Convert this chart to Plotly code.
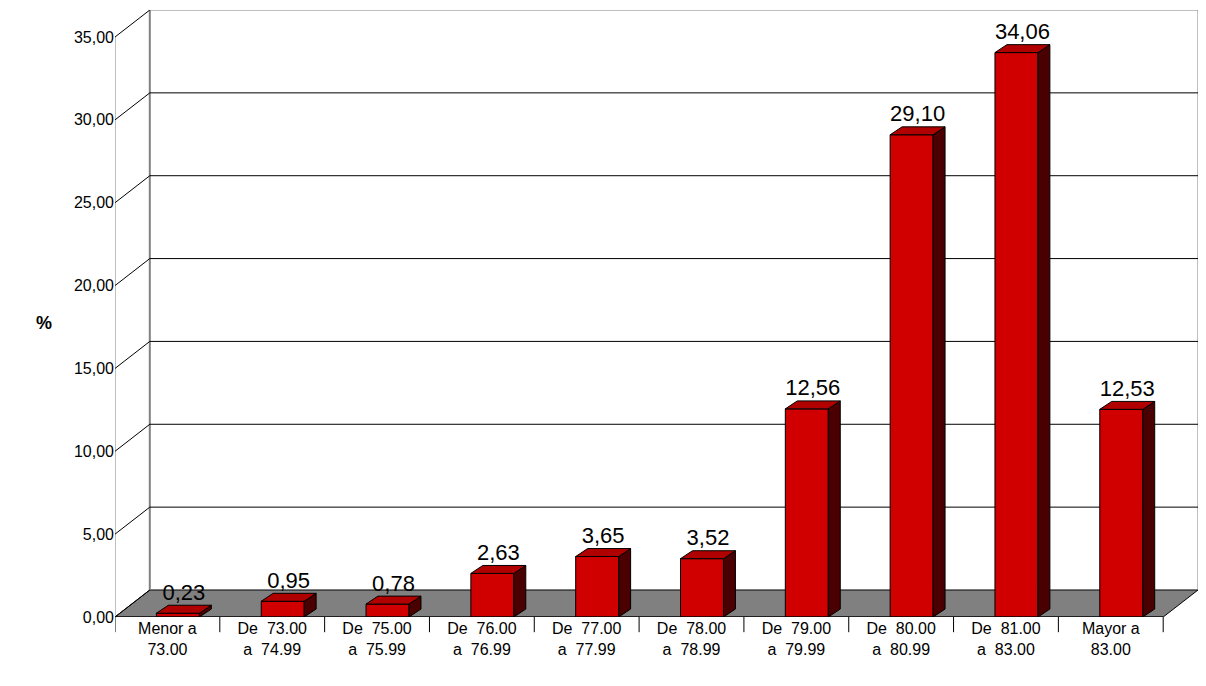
import plotly.graph_objects as go

categories = ["Menor a<br>73.00", "De  73.00<br>a  74.99", "De  75.00<br>a  75.99", "De  76.00<br>a  76.99",
              "De  77.00<br>a  77.99", "De  78.00<br>a  78.99", "De  79.00<br>a  79.99", "De  80.00<br>a  80.99",
              "De  81.00<br>a  83.00", "Mayor a<br>83.00"]
values = [0.23, 0.95, 0.78, 2.63, 3.65, 3.52, 12.56, 29.10, 34.06, 12.53]
yticks = [0, 5, 10, 15, 20, 25, 30, 35]

n = len(values)
DX, DY = 0.332, 1.63      # wall depth in data units
W, OFF = 0.41, 0.10       # bar width, offset of bar center
SDX, SDY = 0.114, 0.48    # bar side depth
x = list(range(n))

fig = go.Figure()
shapes = []
shapes.append(dict(type="path", xref="x", yref="y", layer="below",
                   path=f"M-0.5,0 L{n-0.5},0 L{n-0.5+DX},{DY} L{-0.5+DX},{DY} Z",
                   fillcolor="#808080", line=dict(color="#000", width=1)))
shapes.append(dict(type="line", xref="x", yref="y", layer="below", x0=-0.5, y0=0, x1=-0.5, y1=35, line=dict(color="#808080", width=1)))
shapes.append(dict(type="line", xref="x", yref="y", layer="below", x0=-0.5+DX, y0=DY, x1=-0.5+DX, y1=35+DY, line=dict(color="#808080", width=2)))
shapes.append(dict(type="line", xref="x", yref="y", layer="below", x0=n-0.5+DX, y0=DY, x1=n-0.5+DX, y1=35+DY, line=dict(color="#808080", width=1)))
shapes.append(dict(type="line", xref="x", yref="y", layer="below", x0=-0.5+DX, y0=35+DY, x1=n-0.5+DX, y1=35+DY, line=dict(color="#808080", width=1)))
for t in yticks:
    shapes.append(dict(type="line", xref="x", yref="y", layer="below", x0=-0.5, y0=t, x1=-0.5+DX, y1=t+DY, line=dict(color="#000", width=1)))
    if 0 < t < 35:
        shapes.append(dict(type="line", xref="x", yref="y", layer="below", x0=-0.5+DX, y0=t+DY, x1=n-0.5+DX, y1=t+DY, line=dict(color="#000", width=1)))
    shapes.append(dict(type="line", xref="x", yref="y", x0=-0.5, y0=t, x1=-0.56, y1=t, line=dict(color="#000", width=1)))
shapes.append(dict(type="line", xref="x", yref="y", x0=-0.5, y0=0, x1=n-0.5, y1=0, line=dict(color="#000", width=1)))
for i in range(n + 1):
    shapes.append(dict(type="line", xref="x", yref="paper", x0=i-0.5, y0=0, x1=i-0.5, y1=-0.025, line=dict(color="#000", width=1)))
for i, v in enumerate(values):
    l = i + OFF - W / 2
    r = l + W
    shapes.append(dict(type="path", xref="x", yref="y",
                       path=f"M{r},0 L{r+SDX},{SDY} L{r+SDX},{v+SDY} L{r},{v} Z",
                       fillcolor="#4a0000", line=dict(color="#000", width=1)))
    shapes.append(dict(type="path", xref="x", yref="y",
                       path=f"M{l},{v} L{r},{v} L{r+SDX},{v+SDY} L{l+SDX},{v+SDY} Z",
                       fillcolor="#b00000", line=dict(color="#000", width=1)))

labels = [f"{v:.2f}".replace(".", ",") for v in values]
fig.add_trace(go.Bar(x=x, y=values, width=W, offset=OFF - W / 2,
                     marker=dict(color="#d00000", line=dict(color="#000", width=1)),
                     showlegend=False, hoverinfo="skip"))
fig.add_trace(go.Scatter(x=[i + OFF + SDX / 2 for i in x], y=[v + SDY for v in values], mode="text",
                         text=labels, textposition="top center",
                         textfont=dict(size=22, color="#000"), showlegend=False, cliponaxis=False))

fig.update_layout(
    width=1190, height=670, margin=dict(l=107, r=0, t=2, b=61, autoexpand=False),
    paper_bgcolor="white", plot_bgcolor="white", shapes=shapes,
    font=dict(family="Liberation Sans, Arial", color="#000"), separators=",.",
    xaxis=dict(range=[-0.5, n - 0.5 + DX], tickvals=x, ticktext=categories, showgrid=False,
               zeroline=False, showline=False, tickfont=dict(size=16), ticks="", automargin=False),
    yaxis=dict(range=[0, 35 + DY], tickvals=yticks, tickformat=".2f", showgrid=False, zeroline=False,
               showline=False, tickfont=dict(size=16), ticks="", automargin=False),
    annotations=[dict(text="<b>%</b>", xref="paper", yref="paper", x=-0.075, y=0.485, showarrow=False,
                      font=dict(size=18))],
)
fig.write_html("out.html")
